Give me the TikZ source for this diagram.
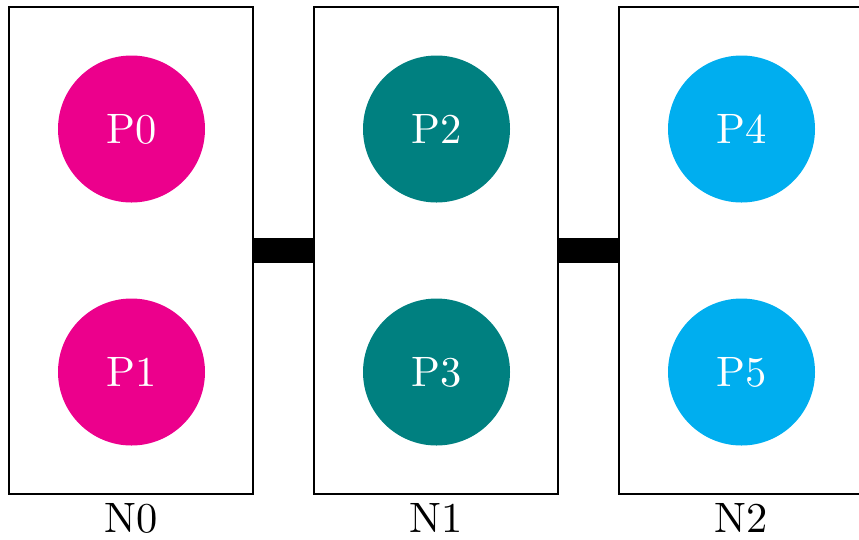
\documentclass[tikz,border=0pt]{standalone}
\usepackage{xcolor}
\usepackage{graphicx}
\definecolor{procA}{HTML}{EC008C}
\definecolor{procB}{HTML}{008080}
\definecolor{procC}{HTML}{00AEEF}
% text set at 10pt design size and enlarged
\newcommand{\bigtxt}[1]{\scalebox{4.25}{#1}}
\begin{document}
\begin{tikzpicture}[x=1pt,y=-1pt,
  nodebox/.style={draw=black,line width=1.6pt,minimum width=244pt,minimum height=487pt,inner sep=0pt},
  proc/.style={circle,minimum size=147pt,inner sep=0pt,text=white},
  link/.style={line width=25pt,draw=black},
  nlabel/.style={anchor=north,inner sep=0pt}]
\useasboundingbox (0,0) rectangle (859,539);
\clip (0,0) rectangle (859,539);
% compute nodes
\node[nodebox] (N0) at (131,250.5) {};
\node[nodebox] (N1) at (436,250.5) {};
\node[nodebox] (N2) at (741,250.5) {};
% interconnect
\draw[link] (N0.east) -- (N1.west);
\draw[link] (N1.east) -- (N2.west);
% processes
\node[proc,fill=procA] (P0) at (131.5,129) {\bigtxt{P0}};
\node[proc,fill=procA] (P1) at (131.5,372) {\bigtxt{P1}};
\node[proc,fill=procB] (P2) at (436.5,129) {\bigtxt{P2}};
\node[proc,fill=procB] (P3) at (436.5,372) {\bigtxt{P3}};
\node[proc,fill=procC] (P4) at (741.5,129) {\bigtxt{P4}};
\node[proc,fill=procC] (P5) at (741.5,372) {\bigtxt{P5}};
% node labels
\node[nlabel] (L0) at (131,503) {\bigtxt{N0}};
\node[nlabel] (L1) at (436,503) {\bigtxt{N1}};
\node[nlabel] (L2) at (741,503) {\bigtxt{N2}};
\end{tikzpicture}
\end{document}
